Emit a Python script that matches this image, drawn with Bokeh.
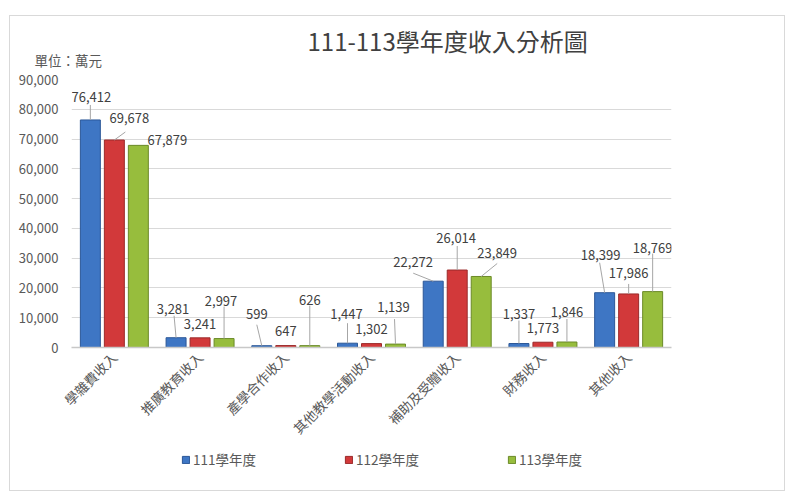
import math
from bokeh.plotting import figure
from bokeh.layouts import column
from bokeh.models import (ColumnDataSource, FactorRange, Range1d, FixedTicker,
                          NumeralTickFormatter, LabelSet, Legend, LegendItem, Title)
from bokeh.core.properties import value
from bokeh.transform import dodge
from bokeh.embed import file_html
from bokeh.resources import INLINE

# ---------------- data ----------------
categories = ["學雜費收入", "推廣教育收入", "產學合作收入", "其他教學活動收入",
              "補助及受贈收入", "財務收入", "其他收入"]
series_names = ["111學年度", "112學年度", "113學年度"]
values_111 = [76412, 3281, 599, 1447, 22272, 1337, 18399]
values_112 = [69678, 3241, 647, 1302, 26014, 1773, 17986]
values_113 = [67879, 2997, 626, 1139, 23849, 1846, 18769]
y_ticks = [0, 10000, 20000, 30000, 40000, 50000, 60000, 70000, 80000, 90000]
title_text = "111-113學年度收入分析圖"
unit_text = "單位：萬元"

# ---------------- styles / placement ----------------
FONT = "Noto Sans CJK TC"
colors = ["#3e76c4", "#d2393a", "#97bd3d"]
edge_colors = ["#2b5797", "#9a2a2a", "#6b8a28"]
dodges = [-0.28, 0.0, 0.28]
BAR_W = 0.233
FRAME_W, FRAME_H = 600, 268
Y_MAX = 90000

# data-label offsets in px (dx, dy up) relative to each bar top
label_offsets = [
    [(1, 22.5), (-3, 29), (-5, 32), (-1, 29), (-20, 19), (0, 30), (-4, 38)],
    [(15, 22.5), (0, 14), (0, 15), (0, 15), (-1, 32), (0, 14), (0, 21)],
    [(29, 5), (-3, 38), (0, 46), (-2, 37), (16, 23), (0, 30), (0, 44)],
]
# leader-line end offsets in px (dx, dy up) relative to each bar top
leader_offsets = [
    [(0, 15), (-2, 22), (-5, 21), (0, 20), (-20, 8), (0, 23), (-5, 30)],
    [(11, 8), None, None, None, (0, 24), None, (0, 10)],
    [None, (0, 32), (0, 40), (-1, 25), (16, 13), (0, 23), (0, 38)],
]

p = figure(x_range=FactorRange(factors=categories), y_range=Range1d(0, Y_MAX),
           width=774, height=434, min_border_left=61, min_border_right=113,
           min_border_top=63, min_border_bottom=103,
           output_backend="svg", toolbar_location=None, title=None)
p.background_fill_color = "white"
p.border_fill_color = "white"
p.outline_line_color = None

p.xgrid.grid_line_color = None
p.ygrid.grid_line_color = "#d9d9d9"
p.ygrid.grid_line_width = 1

p.yaxis.ticker = FixedTicker(ticks=y_ticks)
p.yaxis.formatter = NumeralTickFormatter(format="0,0")
p.yaxis.axis_line_color = None
p.yaxis.major_tick_line_color = None
p.yaxis.major_tick_out = 0
p.yaxis.minor_tick_line_color = None
p.yaxis.minor_tick_out = 0
p.yaxis.major_label_standoff = 13
p.yaxis.major_label_text_font = FONT
p.yaxis.major_label_text_font_size = "13px"
p.yaxis.major_label_text_color = "#595959"

p.xaxis.axis_line_color = "#c8c8c8"
p.xaxis.axis_line_width = 1.5
p.xaxis.major_tick_line_color = None
p.xaxis.major_tick_out = 0
p.xaxis.minor_tick_line_color = None
p.xaxis.minor_tick_out = 0
p.xaxis.major_label_orientation = math.pi / 4
p.xaxis.major_label_standoff = 7
p.xaxis.major_label_text_font = FONT
p.xaxis.major_label_text_font_size = "13.5px"
p.xaxis.major_label_text_color = "#595959"

all_values = [values_111, values_112, values_113]
px_x = len(categories) / FRAME_W
px_y = Y_MAX / FRAME_H

for s, vals in enumerate(all_values):
    src = ColumnDataSource(dict(
        cat=categories, val=vals, txt=[f"{v:,}" for v in vals],
        dx=[o[0] for o in label_offsets[s]], dy=[o[1] for o in label_offsets[s]],
    ))
    p.vbar(x=dodge("cat", dodges[s], range=p.x_range), top="val", width=BAR_W,
           source=src, fill_color=colors[s], line_color=edge_colors[s], line_width=1)

    # leader lines
    x0, y0, x1, y1 = [], [], [], []
    for i, v in enumerate(vals):
        lo = leader_offsets[s][i]
        if lo is None:
            continue
        cx = i + 0.5 + dodges[s]
        x0.append(cx); y0.append(v)
        x1.append(cx + lo[0] * px_x); y1.append(v + lo[1] * px_y)
    p.segment(x0=x0, y0=y0, x1=x1, y1=y1, line_color="#a6a6a6", line_width=1)

    labels = LabelSet(x=dodge("cat", dodges[s], range=p.x_range), y="val", text="txt",
                      x_offset="dx", y_offset="dy", source=src,
                      text_align="center", text_baseline="middle",
                      text_font=value(FONT), text_font_size=value("13px"),
                      text_color="#404040")
    p.add_layout(labels)

unit_title = Title(text=unit_text, align="left", offset=-37, standoff=20,
                   text_font=FONT, text_font_size="13.5px", text_font_style="normal",
                   text_color="#595959")
p.add_layout(unit_title, "above")
main_title = Title(text=title_text, align="left", offset=236, standoff=-40,
                   text_font=FONT, text_font_size="24px", text_font_style="normal",
                   text_color="#404040")
p.add_layout(main_title, "above")

# ---------------- legend strip ----------------
lg = figure(width=774, height=40, x_range=Range1d(0, 1), y_range=Range1d(0, 1),
            x_axis_location=None, y_axis_location=None,
            min_border_left=0, min_border_right=0, min_border_top=0, min_border_bottom=0,
            output_backend="svg", toolbar_location=None, title=None)
lg.grid.visible = False
lg.outline_line_color = None
lg.border_fill_color = "white"
lg.background_fill_color = "white"
lg_renderers = [lg.vbar(x=[0], top=[0], width=0, fill_color=colors[k],
                        line_color=edge_colors[k], visible=False) for k in range(3)]
legend = Legend(items=[LegendItem(label=series_names[k], renderers=[lg_renderers[k]])
                       for k in range(3)],
                orientation="horizontal", location=(110, 21),
                spacing=88, glyph_width=9, glyph_height=9, label_standoff=3,
                label_height=14,
                label_text_font=FONT, label_text_font_size="13.5px",
                label_text_color="#595959", border_line_color=None,
                background_fill_alpha=0, padding=0, margin=0)
lg.add_layout(legend)

layout = column(p, lg, spacing=0)
layout.styles = {"margin-left": "9px", "margin-top": "15px",
                 "border": "1px solid #d9d9d9"}

open("out.html", "w").write(file_html(layout, INLINE))
